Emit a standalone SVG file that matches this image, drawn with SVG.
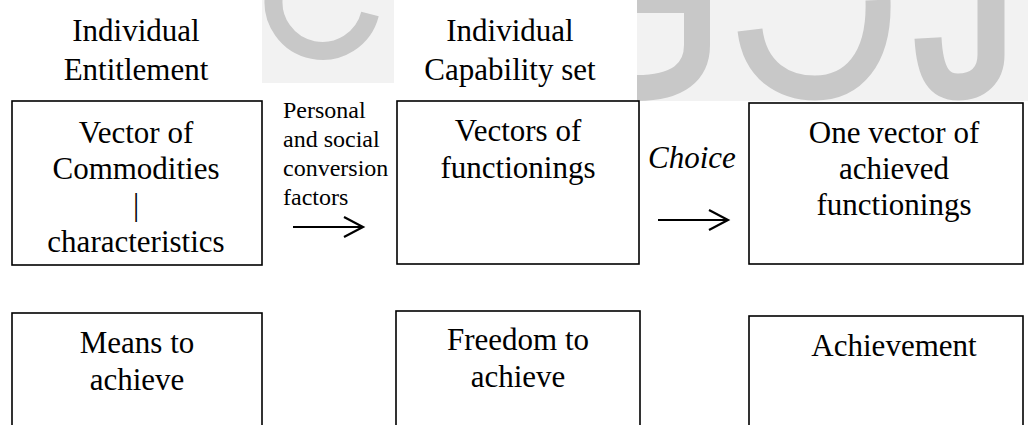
<svg xmlns="http://www.w3.org/2000/svg" width="1028" height="425" viewBox="0 0 1028 425">
  <style>
    text { font-family: "Liberation Serif", "Times New Roman", serif; fill: #000; }
    .lbl { font-size: 31px; text-anchor: middle; }
    .box { fill: #fff; stroke: #000; stroke-width: 1.6; }
    .note { font-size: 24px; }
    .wm { fill: none; stroke: #c8c8c8; }
    .conn { stroke: #000; stroke-width: 2; fill: none; }
  </style>
  <defs>
    <!-- open chevron head for the flow arrows -->
    <marker id="head" viewBox="0 0 24 24" refX="21" refY="12" markerWidth="24" markerHeight="24" markerUnits="userSpaceOnUse" orient="auto">
      <path d="M2 2 L21 12 L2 22" fill="none" stroke="#000" stroke-width="2.2"/>
    </marker>
  </defs>

  <rect width="1028" height="425" fill="#fff"/>

  <!-- background watermark -->
  <g id="watermark">
    <rect x="262" y="0" width="132" height="83" fill="#f2f2f2"/>
    <rect x="637" y="0" width="391" height="101" fill="#f2f2f2"/>
    <path class="wm" stroke-width="18" d="M274 -5 A49 49 0 0 0 370 14"/>
    <path class="wm" stroke-width="26" d="M637 0 H697 V45 C697 72 678 88 637 88"/>
    <path class="wm" stroke-width="25" d="M750 30 C755 72 785 88 815 88 C852 88 880 60 878 0"/>
    <path class="wm" stroke-width="27" d="M991 0 V55 C991 75 978 87 958 87 C940 87 930 75 928 38"/>
  </g>

  <!-- column headings -->
  <g id="heading-entitlement">
    <text class="lbl" x="136" y="41">Individual</text>
    <text class="lbl" x="136" y="80">Entitlement</text>
  </g>
  <g id="heading-capability">
    <text class="lbl" x="510" y="41">Individual</text>
    <text class="lbl" x="510" y="80">Capability set</text>
  </g>

  <!-- top row -->
  <g id="node-commodities">
    <rect class="box" x="12" y="101" width="250" height="164"/>
    <text class="lbl" x="136" y="143">Vector of</text>
    <text class="lbl" x="136" y="179">Commodities</text>
    <text class="lbl" x="136" y="215">|</text>
    <text class="lbl" x="136" y="252">characteristics</text>
  </g>
  <g id="node-functionings">
    <rect class="box" x="397" y="101" width="242" height="163"/>
    <text class="lbl" x="518" y="141">Vectors of</text>
    <text class="lbl" x="518" y="178">functionings</text>
  </g>
  <g id="node-achieved">
    <rect class="box" x="749" y="103" width="274" height="161"/>
    <text class="lbl" x="894" y="143">One vector of</text>
    <text class="lbl" x="894" y="179">achieved</text>
    <text class="lbl" x="894" y="215">functionings</text>
  </g>

  <!-- bottom row -->
  <g id="node-means">
    <rect class="box" x="12" y="313" width="250" height="130"/>
    <text class="lbl" x="137" y="353">Means to</text>
    <text class="lbl" x="137" y="390">achieve</text>
  </g>
  <g id="node-freedom">
    <rect class="box" x="396" y="311" width="244" height="130"/>
    <text class="lbl" x="518" y="350">Freedom to</text>
    <text class="lbl" x="518" y="387">achieve</text>
  </g>
  <g id="node-achievement">
    <rect class="box" x="749" y="316" width="274" height="130"/>
    <text class="lbl" x="894" y="356">Achievement</text>
  </g>

  <!-- connectors with their labels -->
  <g id="connectors">
    <text class="note" x="283" y="118">Personal</text>
    <text class="note" x="283" y="147">and social</text>
    <text class="note" x="283" y="176">conversion</text>
    <text class="note" x="283" y="205">factors</text>
    <line class="conn" x1="293" y1="227" x2="363" y2="227" marker-end="url(#head)"/>
    <text x="648" y="168" font-size="31" font-style="italic">Choice</text>
    <line class="conn" x1="658" y1="220" x2="728" y2="220" marker-end="url(#head)"/>
  </g>
</svg>
